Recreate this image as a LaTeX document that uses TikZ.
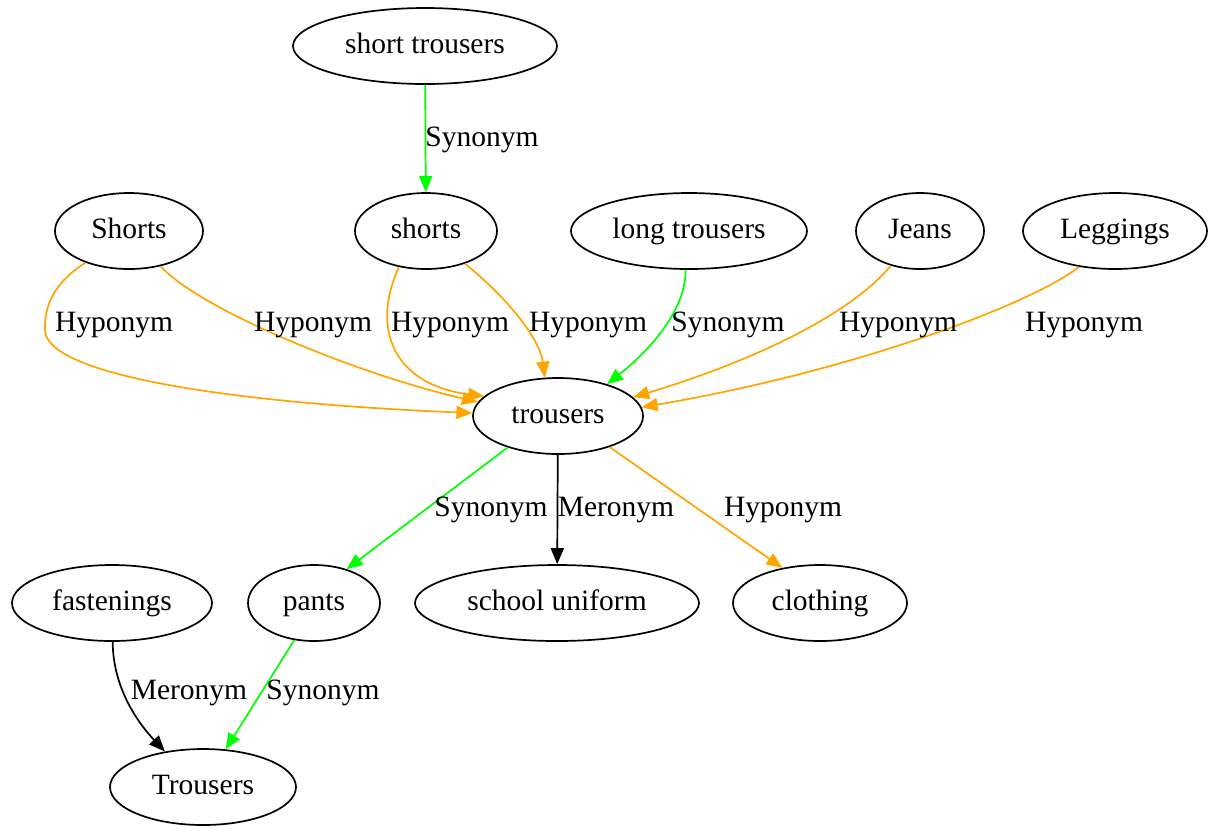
\documentclass[tikz,border=0pt]{standalone}
\usepackage{fontspec}
\setmainfont{Liberation Serif}
\usetikzlibrary{arrows.meta,shapes.geometric}
\definecolor{gvgreen}{HTML}{00FF00}
\definecolor{gvorange}{HTML}{FFA500}
\begin{document}
\begin{tikzpicture}[x=0.5pt,y=-0.5pt,
  gvnode/.style={ellipse, draw, line width=0.85pt, inner sep=0pt, minimum height=38pt, text height=9.5pt, text depth=2pt, font=\fontsize{14.75}{17}\selectfont},
  lbl/.style={inner sep=0pt, font=\fontsize{14.75}{17}\selectfont},
  gvedge/.style={line width=0.85pt, -{Triangle[length=8pt,width=6.5pt]}},
  syn/.style={gvedge, draw=gvgreen},
  hyp/.style={gvedge, draw=gvorange},
  mer/.style={gvedge, draw=black}]
\fill[white] (0,0) rectangle (1211,827);
\useasboundingbox (0,0) rectangle (1211,827);
% nodes
\node[gvnode, minimum width=132pt] (st) at (425,46) {short trousers};
\node[gvnode, minimum width=74pt] (Shorts) at (129,231) {Shorts};
\node[gvnode, minimum width=71pt] (shorts) at (426,231) {shorts};
\node[gvnode, minimum width=118pt] (long) at (689,231) {long trousers};
\node[gvnode, minimum width=64pt] (Jeans) at (920,231) {Jeans};
\node[gvnode, minimum width=92pt] (Leggings) at (1115,231) {Leggings};
\node[gvnode, minimum width=85pt] (trousers) at (558,416) {trousers};
\node[gvnode, minimum width=100pt] (fastenings) at (112,603) {fastenings};
\node[gvnode, minimum width=66pt] (pants) at (314,603) {pants};
\node[gvnode, minimum width=142pt] (school) at (557,603) {school uniform};
\node[gvnode, minimum width=87pt] (clothing) at (820,603) {clothing};
\node[gvnode, minimum width=93pt] (Trousers) at (203,787) {Trousers};
% edges
\draw[syn] (st) -- (shorts);
\draw[hyp] (Shorts.216) .. controls (55,282) and (44,305) .. (45,330) .. controls (46,375) and (230,403) .. (trousers.178);
\draw[hyp] (Shorts.-48) .. controls (200,310) and (360,375) .. (trousers.170);
\draw[hyp] (shorts.-127) .. controls (370,330) and (395,385) .. (trousers.165);
\draw[hyp] (shorts.-40) .. controls (510,300) and (540,340) .. (trousers.109);
\draw[syn] (long.-95) .. controls (686,310) and (650,350) .. (trousers.33);
\draw[hyp] (Jeans.-130) .. controls (845,320) and (740,365) .. (trousers.14);
\draw[hyp] (Leggings.-135) .. controls (1030,305) and (850,372) .. (trousers.6);
\draw[syn] (trousers.-148) -- (pants.46);
\draw[mer] (trousers) -- (school);
\draw[hyp] (trousers.-31) -- (clothing.137);
\draw[mer] (fastenings.-89) .. controls (113,690) and (140,725) .. (Trousers.137);
\draw[syn] (pants.-118) -- (Trousers.59);
% labels
\node[lbl] (l1) at (482,140) {Synonym};
\node[lbl] (l2) at (114,325) {Hyponym};
\node[lbl] (l3) at (313,325) {Hyponym};
\node[lbl] (l4) at (450,325) {Hyponym};
\node[lbl] (l5) at (588,325) {Hyponym};
\node[lbl] (l6) at (728,325) {Synonym};
\node[lbl] (l7) at (898,325) {Hyponym};
\node[lbl] (l8) at (1084,325) {Hyponym};
\node[lbl] (l9) at (491,510) {Synonym};
\node[lbl] (l10) at (616,510) {Meronym};
\node[lbl] (l11) at (783,510) {Hyponym};
\node[lbl] (l12) at (189,693) {Meronym};
\node[lbl] (l13) at (323,693) {Synonym};
\end{tikzpicture}
\end{document}
